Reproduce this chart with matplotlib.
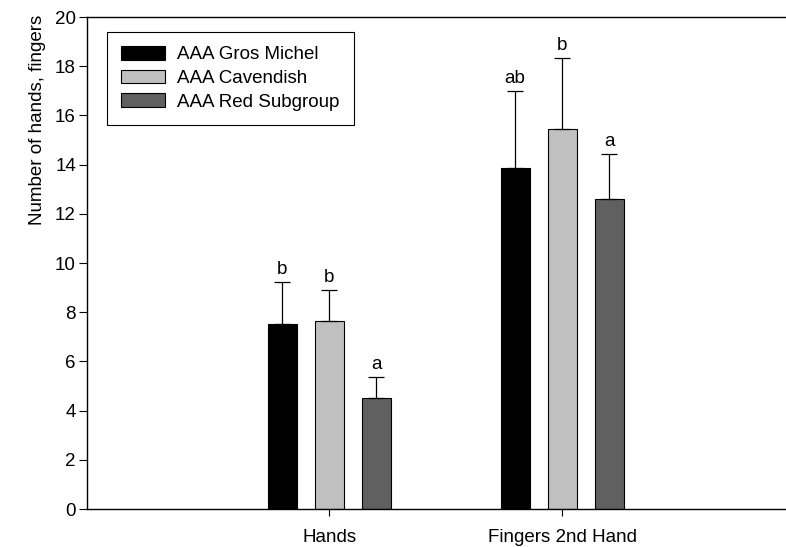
import matplotlib.pyplot as plt
import numpy as np

plt.rcParams['font.family'] = ['Liberation Sans', 'DejaVu Sans']

groups = ["Hands", "Fingers 2nd Hand"]
cultivars = ["AAA Gros Michel", "AAA Cavendish", "AAA Red Subgroup"]
colors = ["#000000", "#c0c0c0", "#606060"]

means = [
    [7.52, 13.86],   # Gros Michel
    [7.64, 15.45],   # Cavendish
    [4.51, 12.60],   # Red Subgroup
]
errors = [
    [1.71, 3.13],
    [1.26, 2.88],
    [0.86, 1.83],
]
letters = [
    ["b", "ab"],
    ["b", "b"],
    ["a", "a"],
]

fs = 13.5

fig = plt.figure(figsize=(7.86, 5.47), dpi=100)
ax = fig.add_axes([87/786, 38/547, 1 - 87/786, 492/547])

x = np.arange(len(groups))
width = 0.125
step = 0.2017

for i in range(len(cultivars)):
    pos = x + (i - 1) * step
    ax.bar(pos, means[i], width, color=colors[i], edgecolor="black", linewidth=0.8,
           label=cultivars[i], zorder=2)
    ax.errorbar(pos, means[i], yerr=[np.zeros(len(groups)), errors[i]], fmt="none",
                ecolor="black", elinewidth=0.9, capsize=5.5, capthick=0.9, zorder=3)
    for j in range(len(groups)):
        ax.annotate(letters[i][j], (pos[j], means[i][j] + errors[i][j]),
                    xytext=(0, 6), textcoords="offset points",
                    ha="center", va="baseline", fontsize=fs)

ax.set_xlim(-1.039, 1.961)
ax.set_ylim(0, 20)
ax.set_yticks(np.arange(0, 21, 2))
ax.set_xticks(x)
ax.set_xticklabels(groups, fontsize=fs)
ax.tick_params(axis="y", labelsize=fs, length=6, width=0.8, direction="out", pad=2)
ax.tick_params(axis="x", length=5, width=0.8, direction="out", pad=9.5)

# y label sits near the top of the axis in the original
fig.text(38/786, 1 - 120/547, "Number of hands, fingers", rotation=90,
         ha="center", va="center", fontsize=fs)

ax.spines["right"].set_visible(False)
for s in ["left", "bottom", "top"]:
    ax.spines[s].set_linewidth(1.0)

leg = ax.legend(loc="upper left", bbox_to_anchor=(0.0286, 0.9695), fontsize=fs,
                frameon=True, fancybox=False, edgecolor="black", framealpha=1,
                handlelength=2.35, handleheight=0.75, handletextpad=0.65,
                labelspacing=0.33, borderpad=0.75, borderaxespad=0)
leg.get_frame().set_linewidth(0.8)

fig.savefig("out.png", dpi=100)
